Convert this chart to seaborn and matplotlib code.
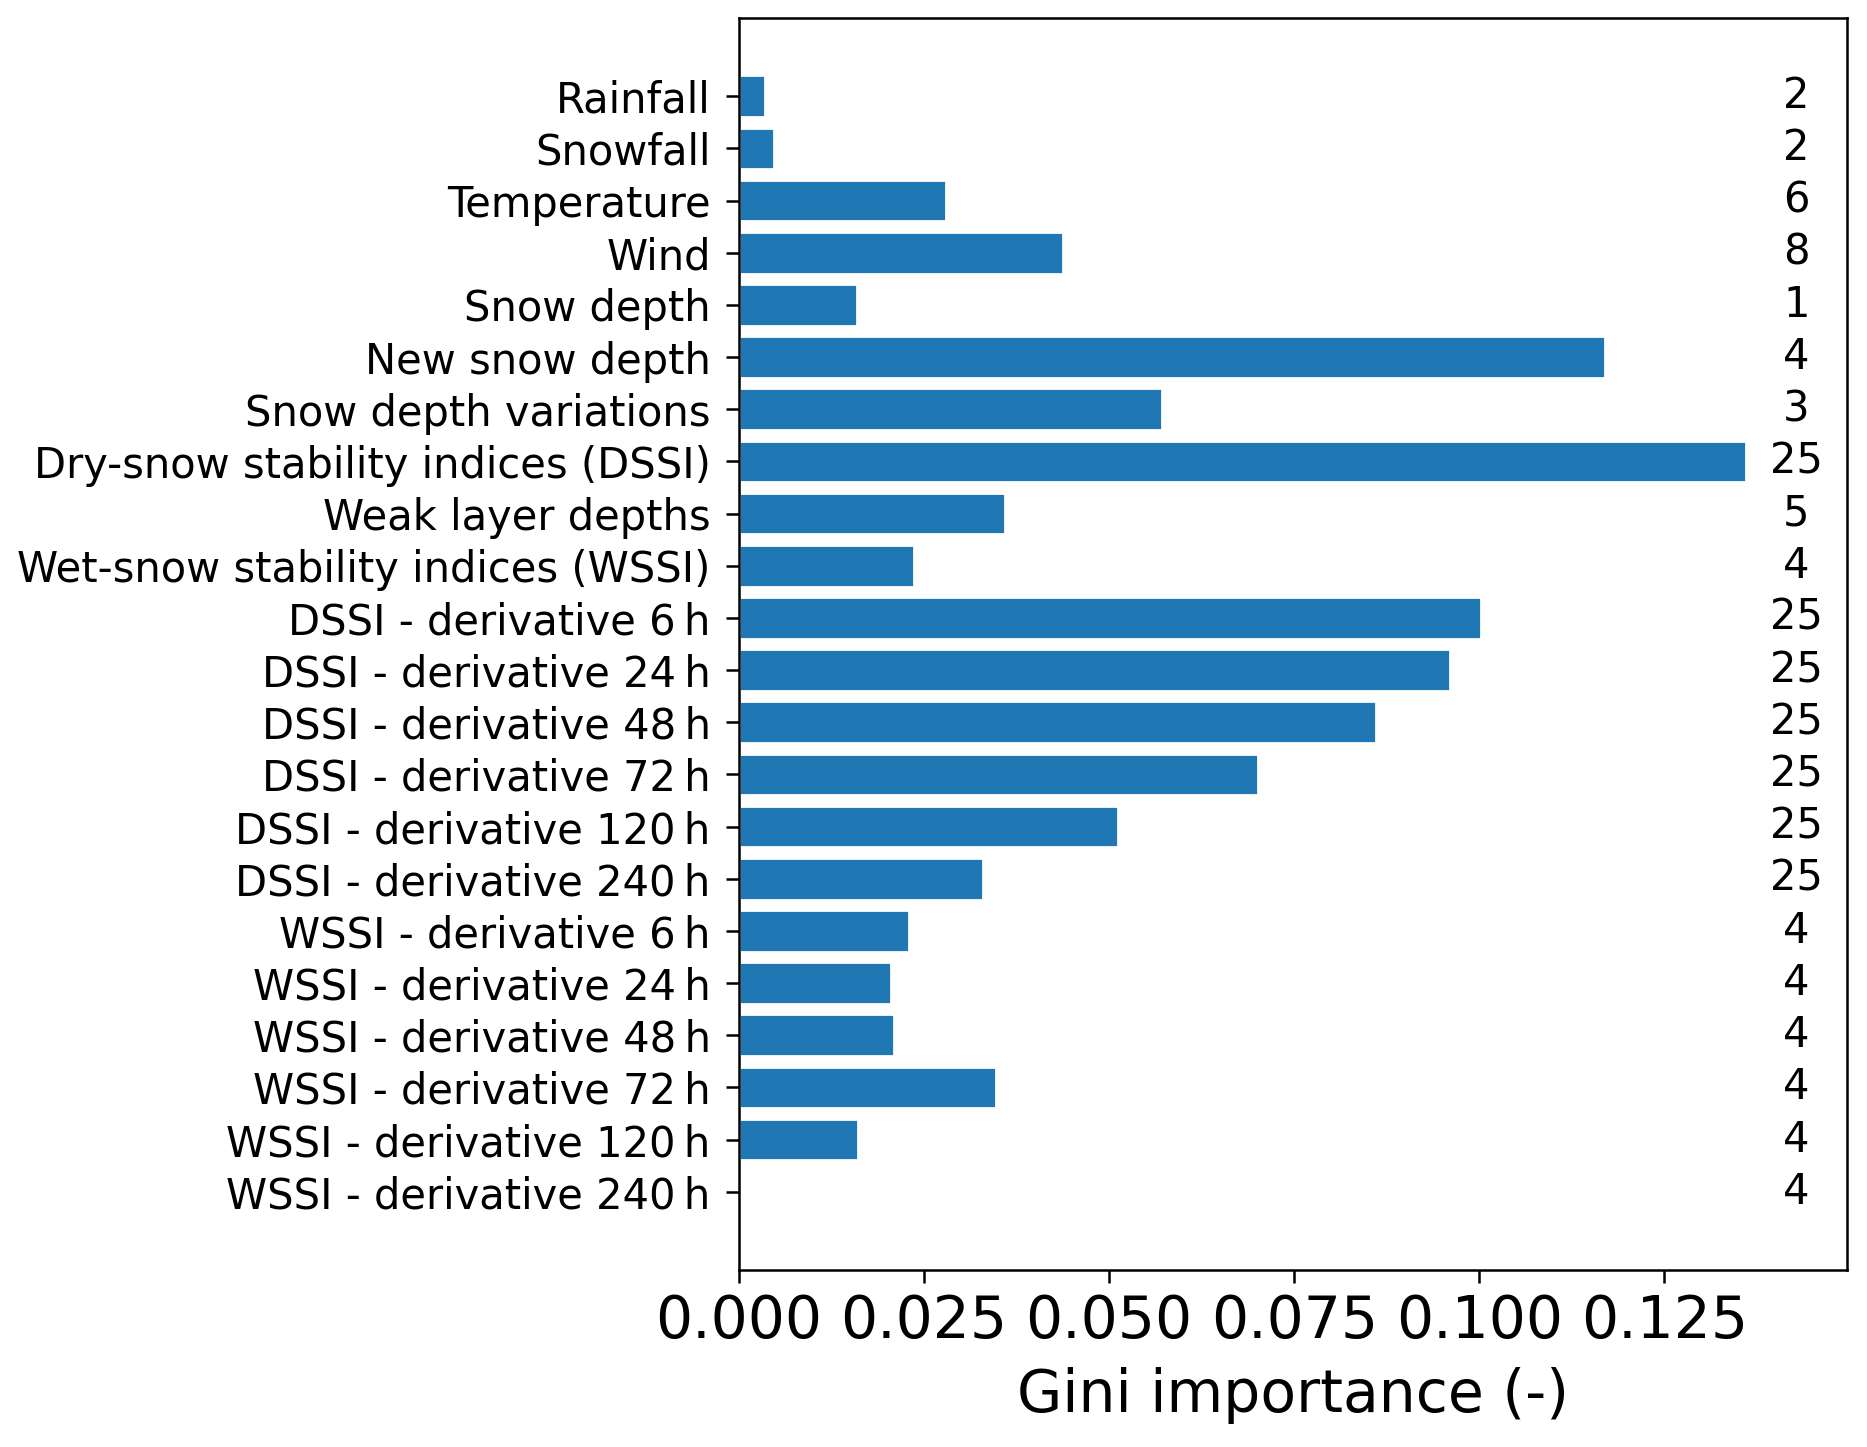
import matplotlib
matplotlib.use("Agg")
import matplotlib.pyplot as plt
import seaborn as sns
import pandas as pd

# Gini importance per feature group
features = [
    "Rainfall", "Snowfall", "Temperature", "Wind", "Snow depth",
    "New snow depth", "Snow depth variations",
    "Dry-snow stability indices (DSSI)", "Weak layer depths",
    "Wet-snow stability indices (WSSI)",
    "DSSI - derivative 6\u2009h", "DSSI - derivative 24\u2009h",
    "DSSI - derivative 48\u2009h", "DSSI - derivative 72\u2009h",
    "DSSI - derivative 120\u2009h", "DSSI - derivative 240\u2009h",
    "WSSI - derivative 6\u2009h", "WSSI - derivative 24\u2009h",
    "WSSI - derivative 48\u2009h", "WSSI - derivative 72\u2009h",
    "WSSI - derivative 120\u2009h", "WSSI - derivative 240\u2009h",
]
importance = [
    0.0035, 0.0047, 0.0280, 0.0438, 0.0159,
    0.1170, 0.0571,
    0.1360, 0.0359,
    0.0236,
    0.1002, 0.0960,
    0.0861, 0.0701,
    0.0512, 0.0330,
    0.0230, 0.0206,
    0.0209, 0.0347,
    0.0161, 0.0,
]
# nombre de variables dans chaque groupe
n_vars = [2, 2, 6, 8, 1, 4, 3, 25, 5, 4, 25, 25, 25, 25, 25, 25, 4, 4, 4, 4, 4, 4]

df = pd.DataFrame({"feature": features, "importance": importance, "n": n_vars})

sns.set_style("ticks")
plt.rcParams["font.family"] = ["DejaVu Sans"]
plt.rcParams["axes.edgecolor"] = "black"
plt.rcParams["axes.linewidth"] = 0.9
plt.rcParams["xtick.color"] = "black"
plt.rcParams["ytick.color"] = "black"
plt.rcParams["text.color"] = "black"
plt.rcParams["axes.labelcolor"] = "black"
plt.rcParams["xtick.major.size"] = 4.8
plt.rcParams["ytick.major.size"] = 4.8
plt.rcParams["xtick.major.width"] = 0.9
plt.rcParams["ytick.major.width"] = 0.9

fig = plt.figure(figsize=(1867 / 200, 1447 / 200), dpi=200)
ax = fig.add_axes([0.3957, 0.1223, 0.5934, 0.8653])

sns.barplot(data=df, x="importance", y="feature", orient="h",
            color="#1f77b4", saturation=1, width=0.8, ax=ax)

xmax = df["importance"].max()
for i, row in df.iterrows():
    ax.text(xmax * 1.05, i, str(row["n"]), ha="center", va="center", fontsize=15)

ax.set_xlim(0, xmax * 1.1)
ax.set_ylim(len(df) + 0.5, -1.5)
ax.set_ylabel("")
ax.set_xlabel("Gini importance (-)", fontsize=21, labelpad=6)
ax.tick_params(axis="y", labelsize=15, pad=5.3)
ax.tick_params(axis="x", labelsize=21)
for s in ax.spines.values():
    s.set_visible(True)

fig.savefig("out.png", dpi=200)
